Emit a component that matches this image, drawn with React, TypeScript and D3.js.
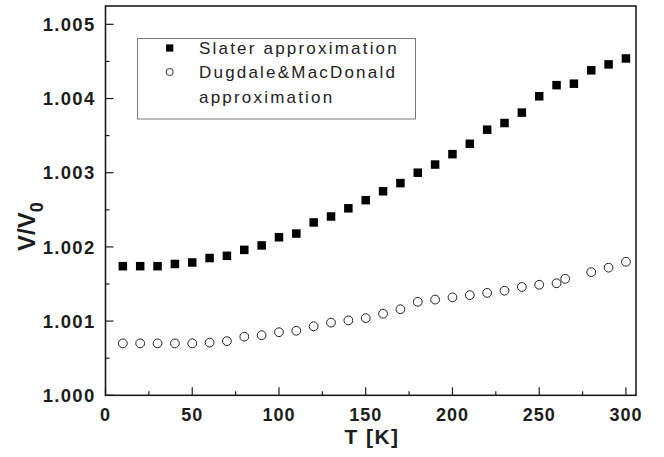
import * as d3 from 'd3';

// Slater approximation (filled squares)
const SLATER_T = [10, 20, 30, 40, 50, 60, 70, 80, 90, 100, 110, 120, 130, 140, 150, 160, 170, 180, 190, 200, 210, 220, 230, 240, 250, 260, 270, 280, 290, 300];
const SLATER_V = [1.00174, 1.00174, 1.00174, 1.00177, 1.00179, 1.00185, 1.00188, 1.00196, 1.00202, 1.00213, 1.00218, 1.00233, 1.00241, 1.00252, 1.00263, 1.00275, 1.00286, 1.003, 1.00311, 1.00325, 1.00339, 1.00358, 1.00367, 1.00381, 1.00403, 1.00418, 1.0042, 1.00438, 1.00446, 1.00454];

// Dugdale & MacDonald approximation (open circles)
const DM_T = [10, 20, 30, 40, 50, 60, 70, 80, 90, 100, 110, 120, 130, 140, 150, 160, 170, 180, 190, 200, 210, 220, 230, 240, 250, 260, 265, 280, 290, 300];
const DM_V = [1.0007, 1.0007, 1.0007, 1.0007, 1.0007, 1.00071, 1.00073, 1.00079, 1.00081, 1.00085, 1.00087, 1.00093, 1.00098, 1.00101, 1.00104, 1.0011, 1.00116, 1.00126, 1.00129, 1.00132, 1.00135, 1.00138, 1.00141, 1.00146, 1.00149, 1.00151, 1.00157, 1.00166, 1.00172, 1.0018];

const X_TICKS = [0, 50, 100, 150, 200, 250, 300];
const X_MINOR = [25, 75, 125, 175, 225, 275];
const Y_TICKS = [1.0, 1.001, 1.002, 1.003, 1.004, 1.005];
const Y_MINOR = [1.0005, 1.0015, 1.0025, 1.0035, 1.0045];

const LEGEND_LINES = ['Slater approximation', 'Dugdale&MacDonald', 'approximation'];

const W = 664;
const H = 457;
const PLOT = { left: 105.5, right: 636, top: 6, bottom: 395.3 };

const FONT = '"Liberation Sans", Arial, Helvetica, sans-serif';
const INK = '#1c1c1c';

export default function App() {
  const x = d3.scaleLinear().domain([0, 305.8]).range([PLOT.left, PLOT.right]);
  const y = d3.scaleLinear().domain([1.0, 1.005247]).range([PLOT.bottom, PLOT.top]);
  const fmt = d3.format('.3f');

  const SQ = 8.5;

  return (
    <svg
      width={W}
      height={H}
      style={{ position: 'absolute', left: 0, top: 0, background: '#fff', fontFamily: FONT }}
    >
      {/* data: Slater */}
      {SLATER_T.map((t, i) => (
        <rect
          key={`s${i}`}
          x={x(t) - SQ / 2}
          y={y(SLATER_V[i]) - SQ / 2}
          width={SQ}
          height={SQ}
          fill="#000"
        />
      ))}
      {/* data: Dugdale & MacDonald */}
      {DM_T.map((t, i) => (
        <circle
          key={`d${i}`}
          cx={x(t)}
          cy={y(DM_V[i])}
          r={4.4}
          fill="none"
          stroke="#222"
          strokeWidth={1}
        />
      ))}

      {/* frame */}
      <rect
        x={PLOT.left}
        y={PLOT.top}
        width={PLOT.right - PLOT.left}
        height={PLOT.bottom - PLOT.top}
        fill="none"
        stroke={INK}
        strokeWidth={1.6}
      />

      {/* x ticks (inward) */}
      {X_TICKS.map((t) => (
        <g key={`xt${t}`}>
          <line x1={x(t)} x2={x(t)} y1={PLOT.bottom} y2={PLOT.bottom - 8} stroke={INK} strokeWidth={1.2} />
          <text
            x={x(t)}
            y={PLOT.bottom + 25.7}
            textAnchor="middle"
            fontSize={18}
            fontWeight="bold"
            letterSpacing={1}
            fill={INK}
          >
            {t}
          </text>
        </g>
      ))}
      {X_MINOR.map((t) => (
        <line key={`xm${t}`} x1={x(t)} x2={x(t)} y1={PLOT.bottom} y2={PLOT.bottom - 4} stroke={INK} strokeWidth={1.2} />
      ))}

      {/* y ticks (inward) */}
      {Y_TICKS.map((v) => (
        <g key={`yt${v}`}>
          <line x1={PLOT.left} x2={PLOT.left + 8} y1={y(v)} y2={y(v)} stroke={INK} strokeWidth={1.2} />
          <text
            x={95.5}
            y={y(v) + 6.6}
            textAnchor="end"
            fontSize={18.5}
            fontWeight="bold"
            letterSpacing={1.3}
            fill={INK}
          >
            {fmt(v)}
          </text>
        </g>
      ))}
      {Y_MINOR.map((v) => (
        <line key={`ym${v}`} x1={PLOT.left} x2={PLOT.left + 4} y1={y(v)} y2={y(v)} stroke={INK} strokeWidth={1.2} />
      ))}

      {/* axis titles */}
      <text
        x={372}
        y={444.3}
        textAnchor="middle"
        fontSize={21}
        fontWeight="bold"
        letterSpacing={1.4}
        fill={INK}
      >
        T [K]
      </text>
      <text
        transform="translate(35,251) rotate(-90)"
        fontSize={24}
        fontWeight="bold"
        fill={INK}
      >
        V/V
        <tspan fontSize={18} dy={8}>0</tspan>
      </text>

      {/* legend */}
      <rect x={137.5} y={38.5} width={278} height={80.5} fill="#fff" stroke="#7a7a7a" strokeWidth={1} />
      <rect x={169.7 - 3.6} y={48 - 3.6} width={7.2} height={7.2} fill="#000" />
      <circle cx={169.7} cy={72} r={3.6} fill="none" stroke="#333" strokeWidth={1} />
      {LEGEND_LINES.map((line, i) => (
        <text
          key={line}
          x={199}
          y={53.5 + i * 24.5}
          fontSize={17}
          letterSpacing={2.2}
          fill="#222"
        >
          {line}
        </text>
      ))}
    </svg>
  );
}
